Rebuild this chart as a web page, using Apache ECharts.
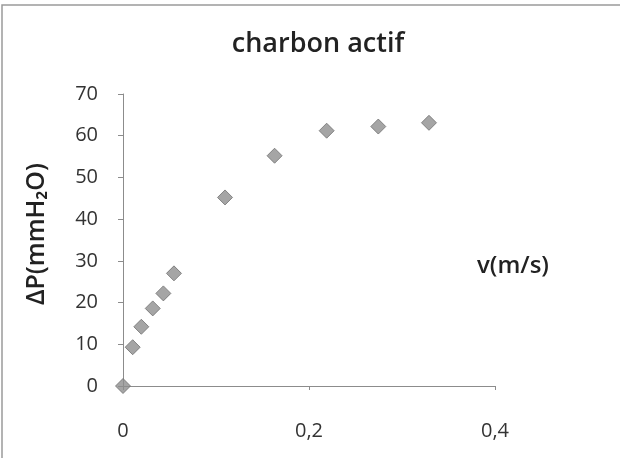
<!DOCTYPE html>
<html>
<head>
<meta charset="utf-8">
<script src="https://cdn.jsdelivr.net/npm/echarts@6/dist/echarts.min.js"></script>
<style>
  html, body { margin: 0; padding: 0; background: #fff; }
  #chart { width: 620px; height: 458px; }
</style>
</head>
<body>
<div id="chart"></div>
<script>
// Pressure drop across an activated-carbon bed versus air velocity
const title = 'charbon actif';
const velocity = [0, 0.0104, 0.0197, 0.032, 0.0434, 0.0548, 0.1097, 0.163, 0.219, 0.2745, 0.329];
const pressureDrop = [0, 9.3, 14.2, 18.6, 22.2, 27.0, 45.2, 55.2, 61.2, 62.2, 63.1];
const xTicks = [0, 0.2, 0.4];
const yTicks = [0, 10, 20, 30, 40, 50, 60, 70];

const points = velocity.map((v, i) => [v, pressureDrop[i]]);
const font = '"Open Sans", Lato, sans-serif';

const chart = echarts.init(document.getElementById('chart'), null, { renderer: 'canvas' });
chart.setOption({
  backgroundColor: '#ffffff',
  animation: false,
  title: {
    text: title,
    left: 313, top: 26, textAlign: 'center',
    textStyle: { fontFamily: font, fontSize: 27, fontWeight: 600, color: '#222222' }
  },
  graphic: [
    { type: 'rect', shape: { x: 2, y: 5, width: 700, height: 500 },
      style: { fill: 'none', stroke: '#9a9a9a', lineWidth: 1.5 }, silent: true },
    { type: 'text', left: 477, top: 254,
      style: { text: 'v(m/s)', fontFamily: font, fontSize: 24, fontWeight: 600, fill: '#222222' } }
  ],
  grid: { left: 123, right: 125, top: 94, bottom: 72, containLabel: false },
  xAxis: {
    type: 'value', min: xTicks[0], max: xTicks[xTicks.length - 1], interval: 0.2,
    axisLine: { lineStyle: { color: '#8c8c8c', width: 1 } },
    axisTick: { show: true, inside: false, length: 4, lineStyle: { color: '#8c8c8c' } },
    splitLine: { show: false },
    axisLabel: {
      margin: 35, fontFamily: font, fontSize: 20, color: '#333333',
      formatter: v => (xTicks.includes(+v.toFixed(2)) ? String(+v.toFixed(2)).replace('.', ',') : '')
    }
  },
  yAxis: {
    type: 'value', min: yTicks[0], max: yTicks[yTicks.length - 1], interval: 10,
    name: 'ΔP(mmH₂O)', nameLocation: 'middle', nameGap: 74, nameRotate: 90,
    nameTextStyle: { fontFamily: font, fontSize: 25, fontWeight: 600, color: '#222222', padding: [0, 0, 0, 12] },
    axisLine: { show: true, lineStyle: { color: '#8c8c8c', width: 1 } },
    axisTick: { show: true, inside: false, length: 5, lineStyle: { color: '#8c8c8c' } },
    splitLine: { show: false },
    axisLabel: { margin: 25, fontFamily: font, fontSize: 20, color: '#333333' }
  },
  series: [{
    type: 'scatter',
    data: points,
    symbol: 'diamond',
    symbolSize: 15,
    clip: false,
    itemStyle: { color: '#8e8e8e', borderColor: '#707070', borderWidth: 1 }
  }]
});
</script>
</body>
</html>
